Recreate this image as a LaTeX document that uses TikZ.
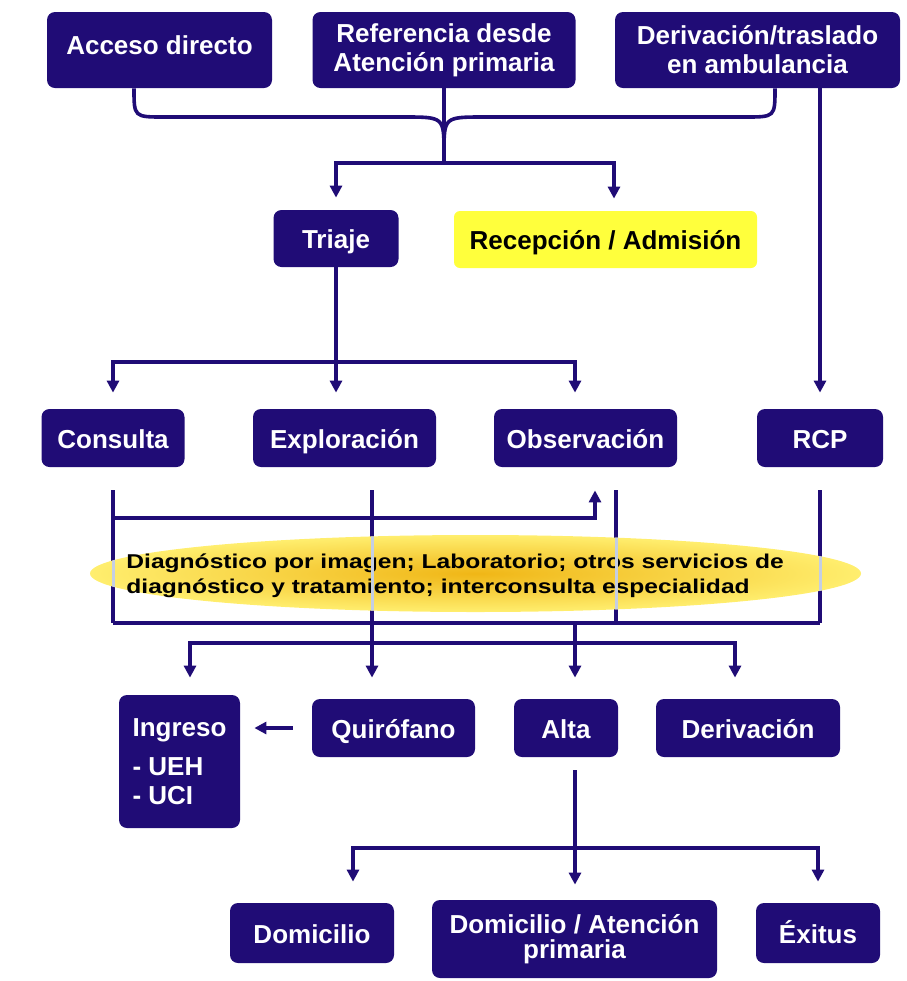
\documentclass[tikz,border=0pt]{standalone}
\usepackage{fontspec}
\setmainfont{Liberation Sans}
\newfontfamily\diagfont[FakeStretch=1.23]{Liberation Sans}
\usetikzlibrary{arrows.meta,calc}
\definecolor{navy}{RGB}{32,12,118}
\definecolor{lemon}{RGB}{255,255,60}
\definecolor{gold}{RGB}{240,182,22}
\definecolor{paleyellow}{RGB}{255,238,110}
\definecolor{paleline}{RGB}{196,206,228}
\begin{document}
\begin{tikzpicture}[x=0.5pt,y=-0.5pt,
  box/.style={fill=navy,rounded corners=4pt,text=white,inner sep=0pt,align=center,
    font=\bfseries\fontsize{13}{14.5}\selectfont},
  oneline/.style={box,text height=12.5pt,text depth=2.5pt},
  yellowbox/.style={oneline,fill=lemon,text=black,rounded corners=3pt},
  link/.style={draw=navy,line width=1.8pt},
  arrow/.style={link,-{Triangle[length=6pt,width=6pt]},shorten >=8pt},
  pale/.style={draw=paleline,line width=1.5pt},
  diagtext/.style={inner sep=0pt,align=left,text=black,
    font=\diagfont\bfseries\fontsize{10}{12.5}\selectfont}]
\useasboundingbox (0,0) rectangle (906,981);
\node[box,text height=7pt,text depth=2.8pt,minimum width=112.5pt,minimum height=38pt] (acceso) at (159.5,50) {Acceso directo};
\node[box,minimum width=131.5pt,minimum height=38pt] (referencia) at (444,50) {Referencia desde\\Atención primaria};
\node[box,minimum width=142.5pt,minimum height=38pt] (derivamb) at (757.5,50) {Derivación/traslado\\en ambulancia};
\node[oneline,minimum width=62.5pt,minimum height=28.5pt] (triaje) at (336,238.5) {Triaje};
\node[yellowbox,minimum width=151.5pt,minimum height=28.5pt] (recepcion) at (605.5,239.5) {Recepción / Admisión};
\node[oneline,minimum width=71.5pt,minimum height=29pt] (consulta) at (113,438) {Consulta};
\node[oneline,minimum width=91.5pt,minimum height=29pt] (exploracion) at (344.5,438) {Exploración};
\node[oneline,minimum width=91.5pt,minimum height=29pt] (observacion) at (585.5,438) {Observación};
\node[oneline,minimum width=63pt,minimum height=29pt] (rcp) at (820,438) {RCP};
\node[box,align=left,minimum width=60.5pt,minimum height=66.5pt] (ingreso) at (179.5,761.5) {Ingreso\\[5pt]- UEH\\- UCI};
\node[oneline,minimum width=81.5pt,minimum height=29pt] (quirofano) at (393.5,728) {Quirófano};
\node[oneline,minimum width=52pt,minimum height=29pt] (alta) at (566,728) {Alta};
\node[oneline,minimum width=92pt,minimum height=29pt] (derivacion) at (748,728) {Derivación};
\node[oneline,minimum width=82pt,minimum height=30pt] (domicilio) at (312,933) {Domicilio};
\node[box,minimum width=142.5pt,minimum height=39pt] (domap) at (574.5,939) {Domicilio / Atención\\[-2pt]primaria};
\node[oneline,minimum width=62pt,minimum height=30pt] (exitus) at (818,933) {Éxitus};
\coordinate (merge) at (444,153);
\coordinate (split) at (444,163);
\coordinate (fork) at (336,362);
\coordinate (loop) at (113,518);
\coordinate (expdown) at (372,467);
\coordinate (obsdown) at (616,467);
\coordinate (hub) at (575,623);
\coordinate (bus) at (575,643);
\coordinate (altafork) at (575,848);
\draw[link] ($(acceso.south)+(-25.5,0)$) .. controls (134,117) .. (164,117) -- (404,117) .. controls (444,117) .. (merge);
\draw[link] ($(derivamb.south)+(17.5,0)$) .. controls (775,117) .. (745,117) -- (484,117) .. controls (444,117) .. (merge);
\draw[link] (referencia.south) -- (merge) -- (split);
\draw[arrow,shorten >=6pt] (split) -| (triaje.north);
\draw[arrow,shorten >=6pt] (split) -| ($(recepcion.north)+(8.5,0)$);
\draw[arrow] (rcp.north |- derivamb.south) -- (rcp.north);
\draw[link] (triaje.south) -- (fork);
\draw[arrow] (fork) -| (consulta.north);
\draw[arrow] (fork) -- (fork |- exploracion.north);
\draw[arrow] (fork) -| ($(observacion.north)+(-10.5,0)$);
\draw[link,shorten <=11.5pt] (consulta.south) -- (consulta.south |- hub);
\draw[arrow,shorten >=11.5pt] (loop) -| ($(observacion.south)+(9.5,0)$);
\draw[link,shorten <=11.5pt] (obsdown) -- (obsdown |- hub);
\draw[link,shorten <=11.5pt] (rcp.south) -- (rcp.south |- hub);
\draw[link] (consulta.south |- hub) -- (rcp.south |- hub);
\draw[arrow,shorten <=11.5pt,shorten >=10.5pt] (expdown) -- (expdown |- quirofano.north);
\draw[link] (hub) -- (bus);
\draw[arrow,shorten >=8.5pt] (bus) -| ($(ingreso.north)+(10.5,0)$);
\draw[arrow,shorten >=10.5pt] (bus) -- (bus |- alta.north);
\draw[arrow,shorten >=10.5pt] (bus) -| ($(derivacion.north)+(-13,0)$);
\draw[arrow,shorten <=9.5pt,shorten >=7pt] (quirofano.west) -- (quirofano.west -| ingreso.east);
\draw[link,shorten <=6.5pt] (alta.south -| altafork) -- (altafork);
\draw[arrow,shorten >=7.5pt] (altafork) -- (altafork |- domap.north);
\draw[arrow,shorten >=10.5pt] (altafork) -| ($(domicilio.north)+(41,0)$);
\draw[arrow,shorten >=10.5pt] (altafork) -| (exitus.north);
\shade[inner color=gold,outer color=paleyellow] (475.5,573.5) ellipse [x radius=192.75pt,y radius=19.25pt];
\node[diagtext,anchor=west] (diag) at (126,575.5) {Diagnóstico por imagen; Laboratorio; otros servicios de\\diagnóstico y tratamiento; interconsulta especialidad};
\begin{scope}
\clip (475.5,573.5) ellipse [x radius=192.75pt,y radius=19.25pt];
\draw[pale] (consulta.south) -- (consulta.south |- hub);
\draw[pale] (expdown) -- (expdown |- quirofano.north);
\draw[pale] (obsdown) -- (obsdown |- hub);
\draw[pale] (rcp.south) -- (rcp.south |- hub);
\end{scope}
\end{tikzpicture}
\end{document}
